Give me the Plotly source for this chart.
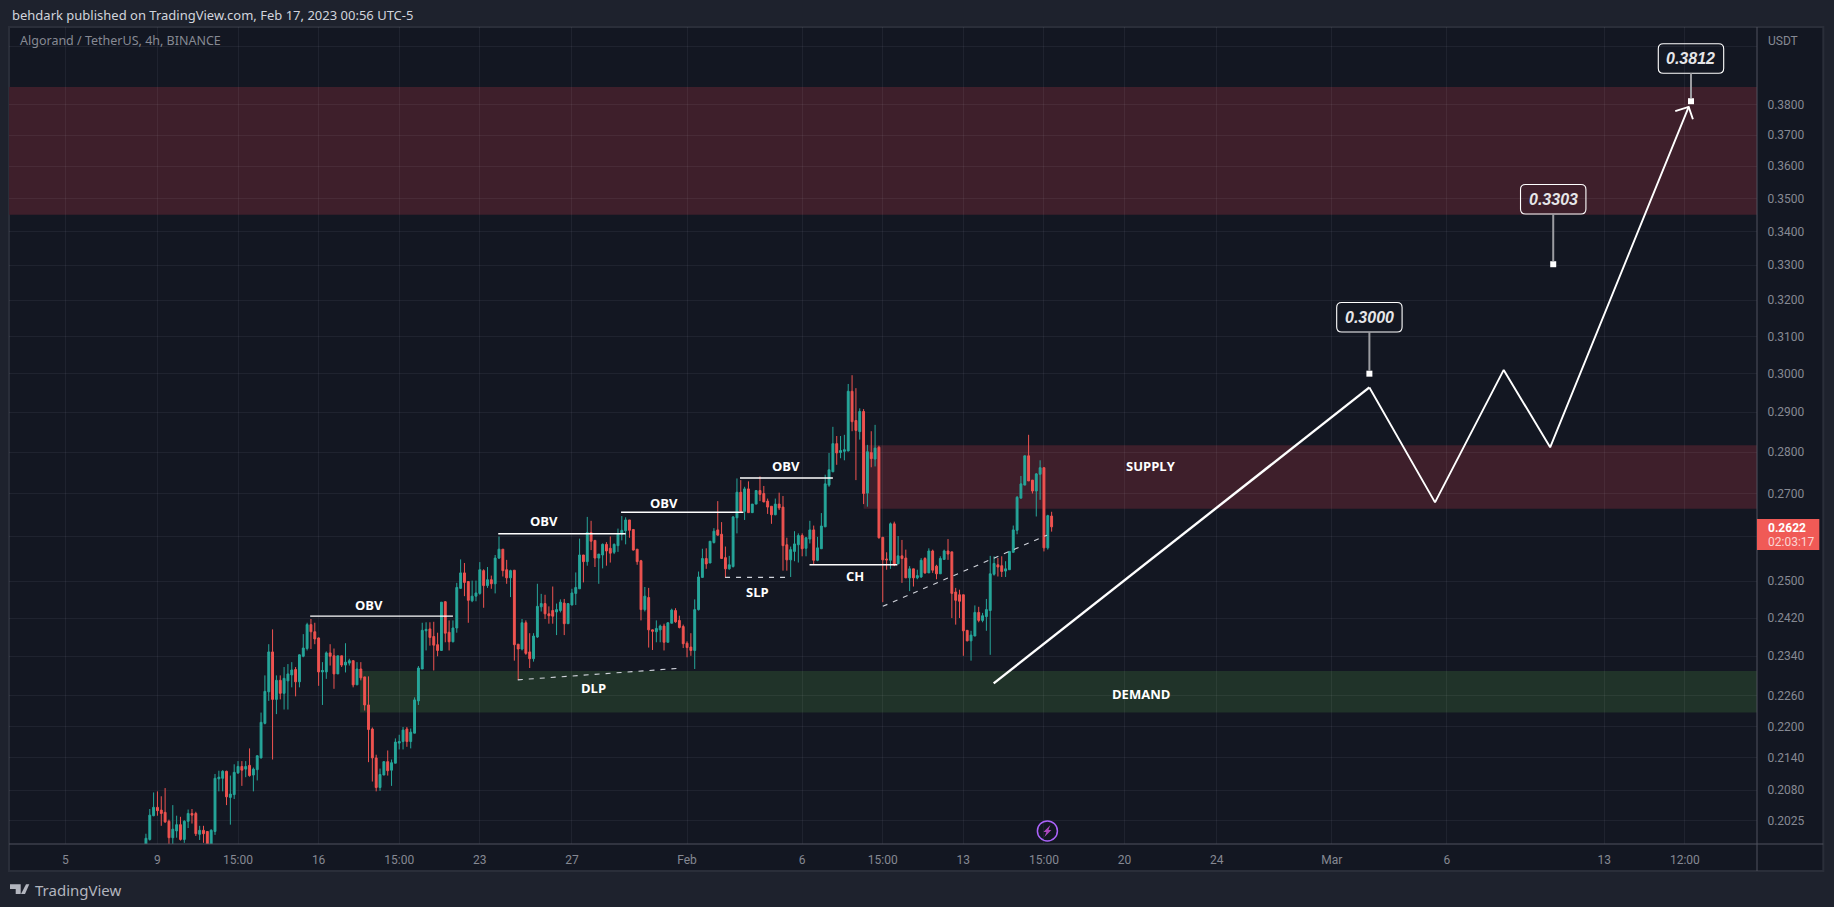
import math
import plotly.graph_objects as go

# ---------- candle data (4h bars, Algorand / TetherUS) ----------
opens = [
.1980,.1992,.2034,.2049,.2044,.2040,.2024,.1995,.2007,.2018,
.1992,.2024,.2038,.2038,.2001,.2008,.2006,.1980,.2006,.2101,
.2102,.2115,.2067,.2072,.2112,.2124,.2119,.2126,.2108,.2118,
.2140,.2206,.2268,.2349,.2253,.2291,.2265,.2290,.2302,.2313,
.2288,.2340,.2356,.2406,.2391,.2378,.2308,.2308,.2347,.2341,
.2304,.2341,.2322,.2326,.2331,.2282,.2314,.2298,.2242,.2195,
.2140,.2085,.2108,.2133,.2117,.2130,.2168,.2171,.2195,.2171,
.2187,.2250,.2314,.2393,.2397,.2381,.2364,.2352,.2455,.2390,
.2370,.2399,.2484,.2518,.2499,.2457,.2467,.2473,.2523,.2490,
.2503,.2494,.2551,.2571,.2525,.2507,.2524,.2365,.2355,.2410,
.2349,.2335,.2380,.2444,.2451,.2429,.2436,.2433,.2436,.2452,
.2408,.2448,.2473,.2483,.2558,.2543,.2609,.2591,.2551,.2558,
.2582,.2573,.2564,.2579,.2605,.2613,.2638,.2616,.2571,.2545,
.2438,.2464,.2395,.2391,.2395,.2403,.2369,.2409,.2436,.2415,
.2402,.2367,.2359,.2352,.2438,.2508,.2550,.2540,.2586,.2615,
.2605,.2552,.2527,.2532,.2643,.2703,.2658,.2711,.2655,.2675,
.2707,.2700,.2682,.2670,.2650,.2675,.2668,.2581,.2547,.2566,
.2581,.2602,.2573,.2594,.2615,.2546,.2572,.2622,.2720,.2752,
.2821,.2799,.2802,.2803,.2954,.2879,.2851,.2902,.2701,.2799,
.2783,.2812,.2598,.2549,.2546,.2629,.2538,.2556,.2551,.2507,
.2527,.2507,.2509,.2550,.2518,.2567,.2533,.2516,.2548,.2567,
.2565,.2476,.2470,.2470,.2394,.2372,.2382,.2432,.2415,.2423,
.2436,.2515,.2536,.2534,.2522,.2525,.2564,.2614,.2689,.2720,
.2791,.2732,.2706,.2746,.2762,.2574,.2647]
highs = [
.2002,.2046,.2076,.2078,.2069,.2084,.2027,.2053,.2034,.2032,
.2026,.2045,.2046,.2041,.2016,.2016,.2006,.2010,.2110,.2116,
.2117,.2116,.2107,.2128,.2134,.2134,.2134,.2158,.2122,.2145,
.2227,.2301,.2365,.2396,.2301,.2301,.2318,.2324,.2328,.2318,
.2344,.2386,.2410,.2418,.2410,.2379,.2328,.2350,.2365,.2356,
.2341,.2341,.2367,.2335,.2331,.2328,.2328,.2298,.2299,.2198,
.2146,.2120,.2133,.2154,.2137,.2177,.2184,.2199,.2199,.2196,
.2257,.2320,.2410,.2411,.2411,.2412,.2389,.2454,.2456,.2415,
.2415,.2496,.2548,.2540,.2500,.2501,.2501,.2542,.2526,.2531,
.2512,.2558,.2600,.2571,.2547,.2525,.2524,.2365,.2418,.2415,
.2388,.2388,.2494,.2472,.2470,.2445,.2488,.2451,.2460,.2461,
.2451,.2483,.2519,.2595,.2558,.2645,.2636,.2591,.2560,.2584,
.2587,.2600,.2584,.2618,.2647,.2644,.2638,.2616,.2571,.2547,
.2487,.2485,.2396,.2415,.2406,.2408,.2411,.2440,.2441,.2425,
.2406,.2371,.2388,.2460,.2521,.2572,.2573,.2589,.2619,.2682,
.2633,.2577,.2556,.2647,.2736,.2732,.2716,.2729,.2675,.2708,
.2741,.2718,.2688,.2670,.2688,.2702,.2694,.2597,.2577,.2612,
.2607,.2607,.2599,.2636,.2625,.2599,.2654,.2745,.2798,.2863,
.2840,.2840,.2843,.2973,.2996,.2962,.2910,.2908,.2818,.2852,
.2868,.2816,.2598,.2564,.2632,.2634,.2601,.2592,.2570,.2533,
.2527,.2525,.2551,.2553,.2573,.2570,.2536,.2555,.2570,.2594,
.2565,.2485,.2481,.2470,.2394,.2393,.2447,.2444,.2431,.2461,
.2556,.2555,.2551,.2555,.2544,.2566,.2625,.2694,.2742,.2791,
.2843,.2732,.2749,.2780,.2762,.2650,.2657]
lows = [
.1975,.1990,.2033,.2034,.2016,.2021,.1980,.1980,.1995,.1990,
.1986,.2012,.2020,.1998,.1991,.1986,.1975,.1975,.2000,.2078,
.2078,.2053,.2018,.2064,.2110,.2088,.2104,.2105,.2078,.2098,
.2139,.2204,.2250,.2137,.2224,.2253,.2233,.2233,.2277,.2259,
.2277,.2338,.2352,.2355,.2365,.2280,.2242,.2294,.2321,.2274,
.2304,.2318,.2307,.2321,.2277,.2282,.2291,.2231,.2132,.2096,
.2078,.2079,.2108,.2107,.2088,.2130,.2156,.2156,.2161,.2158,
.2187,.2242,.2314,.2352,.2362,.2311,.2340,.2352,.2369,.2352,
.2369,.2389,.2483,.2467,.2410,.2454,.2456,.2470,.2442,.2485,
.2483,.2473,.2549,.2510,.2494,.2465,.2331,.2292,.2352,.2343,
.2316,.2329,.2378,.2434,.2418,.2408,.2408,.2384,.2432,.2384,
.2408,.2447,.2448,.2483,.2497,.2534,.2569,.2531,.2494,.2528,
.2534,.2541,.2560,.2565,.2591,.2582,.2597,.2568,.2536,.2415,
.2434,.2358,.2353,.2369,.2369,.2352,.2369,.2409,.2410,.2398,
.2357,.2338,.2341,.2314,.2436,.2508,.2527,.2540,.2584,.2602,
.2550,.2507,.2525,.2530,.2607,.2657,.2638,.2655,.2654,.2675,
.2682,.2680,.2652,.2629,.2649,.2661,.2523,.2523,.2509,.2544,
.2541,.2555,.2555,.2584,.2536,.2544,.2572,.2622,.2716,.2752,
.2769,.2785,.2780,.2802,.2852,.2732,.2831,.2675,.2669,.2763,
.2765,.2595,.2454,.2525,.2527,.2533,.2538,.2496,.2507,.2478,
.2488,.2504,.2507,.2516,.2518,.2518,.2504,.2516,.2548,.2547,
.2420,.2406,.2420,.2341,.2371,.2331,.2382,.2411,.2411,.2393,
.2343,.2512,.2510,.2509,.2509,.2525,.2564,.2605,.2689,.2720,
.2730,.2700,.2646,.2685,.2566,.2570,.2611]
closes = [
.1994,.2035,.2049,.2043,.2038,.2023,.1995,.2010,.2018,.1992,
.2024,.2038,.2035,.2002,.2008,.2002,.1980,.2008,.2102,.2104,
.2115,.2068,.2073,.2113,.2124,.2117,.2124,.2107,.2119,.2144,
.2208,.2269,.2349,.2253,.2291,.2265,.2295,.2304,.2312,.2288,
.2343,.2357,.2406,.2391,.2376,.2308,.2311,.2347,.2340,.2304,
.2341,.2322,.2328,.2331,.2282,.2314,.2296,.2242,.2194,.2140,
.2085,.2109,.2133,.2116,.2131,.2170,.2171,.2193,.2171,.2189,
.2252,.2316,.2394,.2396,.2379,.2363,.2352,.2454,.2388,.2370,
.2399,.2486,.2518,.2497,.2458,.2467,.2474,.2525,.2490,.2503,
.2494,.2551,.2571,.2523,.2507,.2523,.2364,.2355,.2410,.2346,
.2335,.2382,.2445,.2451,.2429,.2425,.2424,.2438,.2454,.2408,
.2451,.2474,.2486,.2558,.2543,.2609,.2589,.2551,.2560,.2582,
.2567,.2562,.2582,.2606,.2614,.2638,.2614,.2569,.2543,.2438,
.2467,.2395,.2392,.2398,.2403,.2369,.2410,.2437,.2412,.2400,
.2366,.2358,.2352,.2438,.2509,.2550,.2538,.2589,.2612,.2603,
.2550,.2527,.2536,.2645,.2703,.2658,.2711,.2655,.2675,.2707,
.2698,.2680,.2668,.2650,.2675,.2666,.2579,.2547,.2570,.2583,
.2602,.2572,.2597,.2615,.2546,.2574,.2624,.2723,.2757,.2821,
.2798,.2804,.2806,.2954,.2876,.2854,.2902,.2700,.2801,.2784,
.2810,.2597,.2547,.2547,.2629,.2536,.2556,.2550,.2507,.2527,
.2507,.2512,.2546,.2518,.2567,.2524,.2516,.2550,.2567,.2560,
.2473,.2458,.2456,.2393,.2372,.2384,.2432,.2415,.2425,.2438,
.2516,.2539,.2531,.2521,.2527,.2566,.2615,.2691,.2723,.2791,
.2730,.2706,.2747,.2762,.2574,.2648,.2622]
bar_index = list(range(len(closes)))

# ---------- axis content ----------
time_tick_bars = [-21, 3, 24, 45, 66, 87, 111, 141, 171, 192, 213, 234, 255, 279, 309, 339, 380, 401]
time_tick_text = ["5", "9", "15:00", "16", "15:00", "23", "27", "Feb", "6", "15:00", "13", "15:00",
                  "20", "24", "Mar", "6", "13", "12:00"]
price_ticks = [.40, .38, .37, .36, .35, .34, .33, .32, .31, .30, .29, .28, .27, .26, .25,
               .242, .234, .226, .22, .214, .208, .2025]
price_tick_text = ["", "0.3800", "0.3700", "0.3600", "0.3500", "0.3400", "0.3300", "0.3200", "0.3100",
                   "0.3000", "0.2900", "0.2800", "0.2700", "", "0.2500", "0.2420", "0.2340", "0.2260",
                   "0.2200", "0.2140", "0.2080", "0.2025"]

# ---------- drawings ----------
solid_lines = {
    "obv1": ([42.8, 80.0], [.2424, .2424]),
    "obv2": ([91.8, 125.0], [.2606, .2606]),
    "obv3": ([123.8, 155.7], [.2656, .2656]),
    "obv4": ([154.8, 179.0], [.2737, .2737]),
    "ch": ([172.9, 195.8], [.2536, .2536]),
}
dashed_lines = {
    "slp": ([150.9, 168.0], [.2508, .2508]),
    "dlp": ([96.9, 138.3], [.2292, .2315]),
    "trend": ([192.0, 234.8], [.2445, .2603]),
}
path_x = [220.9, 318.8, 335.9, 353.8, 365.9, 402.0]
path_y = [.2285, .2964, .2679, .3010, .2812, .3793]
arrow_x = [398.5, 402.0, 403.1]
arrow_y = [.3779, .3793, .3752]
labels = [("OBV", 58.0, .2447), ("OBV", 103.8, .2635), ("OBV", 134.9, .2677), ("OBV", 166.9, .2767),
          ("SLP", 159.4, .2477), ("CH", 184.8, .2512), ("DLP", 116.6, .2275),
          ("SUPPLY", 262.0, .2765), ("DEMAND", 259.2, .2263)]
callout_x = [318.8, 366.7, 402.6]
callout_y = [.3000, .3303, .3812]
callout_text = ["0.3000", "0.3303", "0.3812"]
callout_gap = [41.7, 50.3, 28.0]
zones = [(-36, 420, .345, .386, "#3e1f2b"), (187.0, 420, .2664, .2817, "#3e1f2b"), (55.8, 420, .2227, .2310, "#203329")]

XR = [-35.68, 419.8]
YR = [math.log10(.1984), math.log10(.4069)]
L, R, T, B = 9, 1756.7, 27, 844
W, H = 1834, 907
def pxx(v): return (v - L) / (R - L)
def pxy(v): return (B - v) / (B - T)

BG = "#131722"; OUTER = "#1e222d"; AXIS = "#50535e"; TXT = "#868993"; GRID = "rgba(240,243,250,0.06)"
fig = go.Figure()
fig.add_trace(go.Candlestick(x=bar_index, open=opens, high=highs, low=lows, close=closes, whiskerwidth=0,
    increasing=dict(line=dict(color="#26a69a", width=1), fillcolor="#26a69a"),
    decreasing=dict(line=dict(color="#ef5350", width=1), fillcolor="#ef5350"),
    showlegend=False, hoverinfo="skip"))
for xs, ys in solid_lines.values():
    fig.add_trace(go.Scatter(x=xs, y=ys, mode="lines", line=dict(color="#ffffff", width=1.4), showlegend=False, hoverinfo="skip"))
for xs, ys in dashed_lines.values():
    fig.add_trace(go.Scatter(x=xs, y=ys, mode="lines", line=dict(color="#d1d4dc", width=1.1, dash="5px,6px"), showlegend=False, hoverinfo="skip"))
fig.add_trace(go.Scatter(x=path_x[:2], y=path_y[:2], mode="lines", line=dict(color="#ffffff", width=2.4), showlegend=False, hoverinfo="skip"))
fig.add_trace(go.Scatter(x=path_x[1:], y=path_y[1:], mode="lines", line=dict(color="#ffffff", width=1.9), showlegend=False, hoverinfo="skip"))
fig.add_trace(go.Scatter(x=arrow_x, y=arrow_y, mode="lines", line=dict(color="#ffffff", width=1.9), showlegend=False, hoverinfo="skip"))
fig.add_trace(go.Scatter(x=callout_x, y=callout_y, mode="markers", marker=dict(symbol="square", size=6, color="#ffffff"), showlegend=False, hoverinfo="skip"))
fig.add_trace(go.Scatter(x=[234.9], y=[.2007], mode="markers", marker=dict(symbol="circle-open", size=20, line=dict(color="#ab47bc", width=1.5)), showlegend=False, hoverinfo="skip"))

shapes = [dict(type="rect", xref="paper", yref="paper", x0=0, x1=pxx(1823), y0=pxy(871), y1=1,
               fillcolor=BG, line=dict(color="#2a2e39", width=2), layer="below")]
for x0, x1, y0, y1, col in zones:
    shapes.append(dict(type="rect", xref="x", yref="y", x0=x0, x1=x1, y0=y0, y1=y1, fillcolor=col, line=dict(width=0), layer="below"))
# axis frame lines
shapes.append(dict(type="line", xref="paper", yref="paper", x0=1, x1=1, y0=pxy(871), y1=1, line=dict(color=AXIS, width=1)))
shapes.append(dict(type="line", xref="paper", yref="paper", x0=0, x1=pxx(1823), y0=0, y1=0, line=dict(color=AXIS, width=1)))
# last price tag
shapes.append(dict(type="rect", xref="paper", yref="y", x0=1, x1=pxx(1819), y0=.2569, y1=.2640, fillcolor="#f05a56", line=dict(width=0), layer="above"))
# bolt
shapes.append(dict(type="path", xref="x", yref="y", xsizemode="pixel", ysizemode="pixel", xanchor=234.9, yanchor=.2007,
                   path="M 3,6 L -4,-1 L -1,-1 L -3,-6 L 4,1 L 1,1 Z", fillcolor="#ab47bc", line=dict(width=0)))
# callouts
annotations = []
for cx, cy, txt, gap in zip(callout_x, callout_y, callout_text, callout_gap):
    w, h, r = 32.7, 29.4, 5
    b, t = gap, gap + h
    path = (f"M {-w+r},{b} L {w-r},{b} Q {w},{b} {w},{b+r} L {w},{t-r} Q {w},{t} {w-r},{t} "
            f"L {-w+r},{t} Q {-w},{t} {-w},{t-r} L {-w},{b+r} Q {-w},{b} {-w+r},{b} Z")
    shapes.append(dict(type="path", xref="x", yref="y", xsizemode="pixel", ysizemode="pixel", xanchor=cx, yanchor=cy,
                       path=path, line=dict(color="#ffffff", width=1.1), fillcolor="rgba(0,0,0,0)"))
    shapes.append(dict(type="path", xref="x", yref="y", xsizemode="pixel", ysizemode="pixel", xanchor=cx, yanchor=cy,
                       path=f"M 0,3 L 0,{gap}", line=dict(color="#9b9ca1", width=2)))
    annotations.append(dict(x=cx, y=math.log10(cy), xref="x", yref="y", text=txt, showarrow=False, yshift=gap + h / 2,
                            font=dict(family="Liberation Sans", size=16, color="#e6e6e8", style="italic", weight="bold")))
for txt, lx, ly in labels:
    annotations.append(dict(x=lx, y=math.log10(ly), xref="x", yref="y", text=txt, showarrow=False,
                            font=dict(family="Open Sans", size=13, color="#ffffff", weight="bold")))
def chrome(txt, px, py, color, size, family="Noto Sans", weight="normal"):
    annotations.append(dict(x=pxx(px), y=pxy(py), xref="paper", yref="paper", xanchor="left", yanchor="middle", text=txt, showarrow=False,
                            font=dict(family=family, size=size, color=color, weight=weight)))
chrome("behdark published on TradingView.com, Feb 17, 2023 00:56 UTC-5", 9.5, 15, "#d1d4dc", 13)
chrome("Algorand / TetherUS, 4h, BINANCE", 18, 41, TXT, 12.5)
chrome("USDT", 1766, 41, TXT, 12, "Roboto")
chrome("0.2622", 1766, 527.6, "#ffffff", 12, "Roboto", "bold")
chrome("02:03:17", 1766, 541.6, "#fbd5d4", 12, "Roboto")
chrome("TradingView", 33, 889.5, "#b2b5be", 15, "Noto Sans")
# TradingView logo
logo = dict(xref="paper", yref="paper", xsizemode="pixel", ysizemode="pixel", xanchor=pxx(10), yanchor=pxy(884.3),
            type="path", fillcolor="#b2b5be", line=dict(width=0))
shapes.append({**logo, "path": "M 0,0 L 10.7,0 L 10.7,-9.7 L 5.7,-9.7 L 5.7,-4.7 L 0,-4.7 Z"})
shapes.append({**logo, "path": "M 16,0 L 19.3,0 L 15,-9.7 L 11,-9.7 Z"})
shapes.append({**logo, "path": "M 10,-2.4 A 2,2 0 1 0 14,-2.4 A 2,2 0 1 0 10,-2.4 Z"})

fig.update_layout(
    width=W, height=H, autosize=False, showlegend=False,
    margin=dict(l=L, r=W - R, t=T, b=H - B, pad=0),
    paper_bgcolor=OUTER, plot_bgcolor=BG,
    font=dict(family="Roboto", size=12, color=TXT),
    shapes=shapes, annotations=annotations,
    xaxis=dict(type="linear", range=XR, tickmode="array", tickvals=time_tick_bars, ticktext=time_tick_text,
               showgrid=True, gridcolor=GRID, gridwidth=1, zeroline=False, rangeslider=dict(visible=False),
               ticks="outside", ticklen=5, tickcolor="rgba(0,0,0,0)", tickfont=dict(family="Roboto", size=12, color=TXT), showline=False),
    yaxis=dict(type="log", range=YR, side="right", tickmode="array", tickvals=price_ticks, ticktext=price_tick_text,
               showgrid=True, gridcolor=GRID, gridwidth=1, zeroline=False,
               ticks="outside", ticklen=7, tickcolor="rgba(0,0,0,0)", tickfont=dict(family="Roboto", size=12, color=TXT), showline=False),
)
fig.write_html("out.html", config=dict(displayModeBar=False, responsive=False),
               post_script="document.body.style.margin='0';document.body.style.overflow='hidden';")
